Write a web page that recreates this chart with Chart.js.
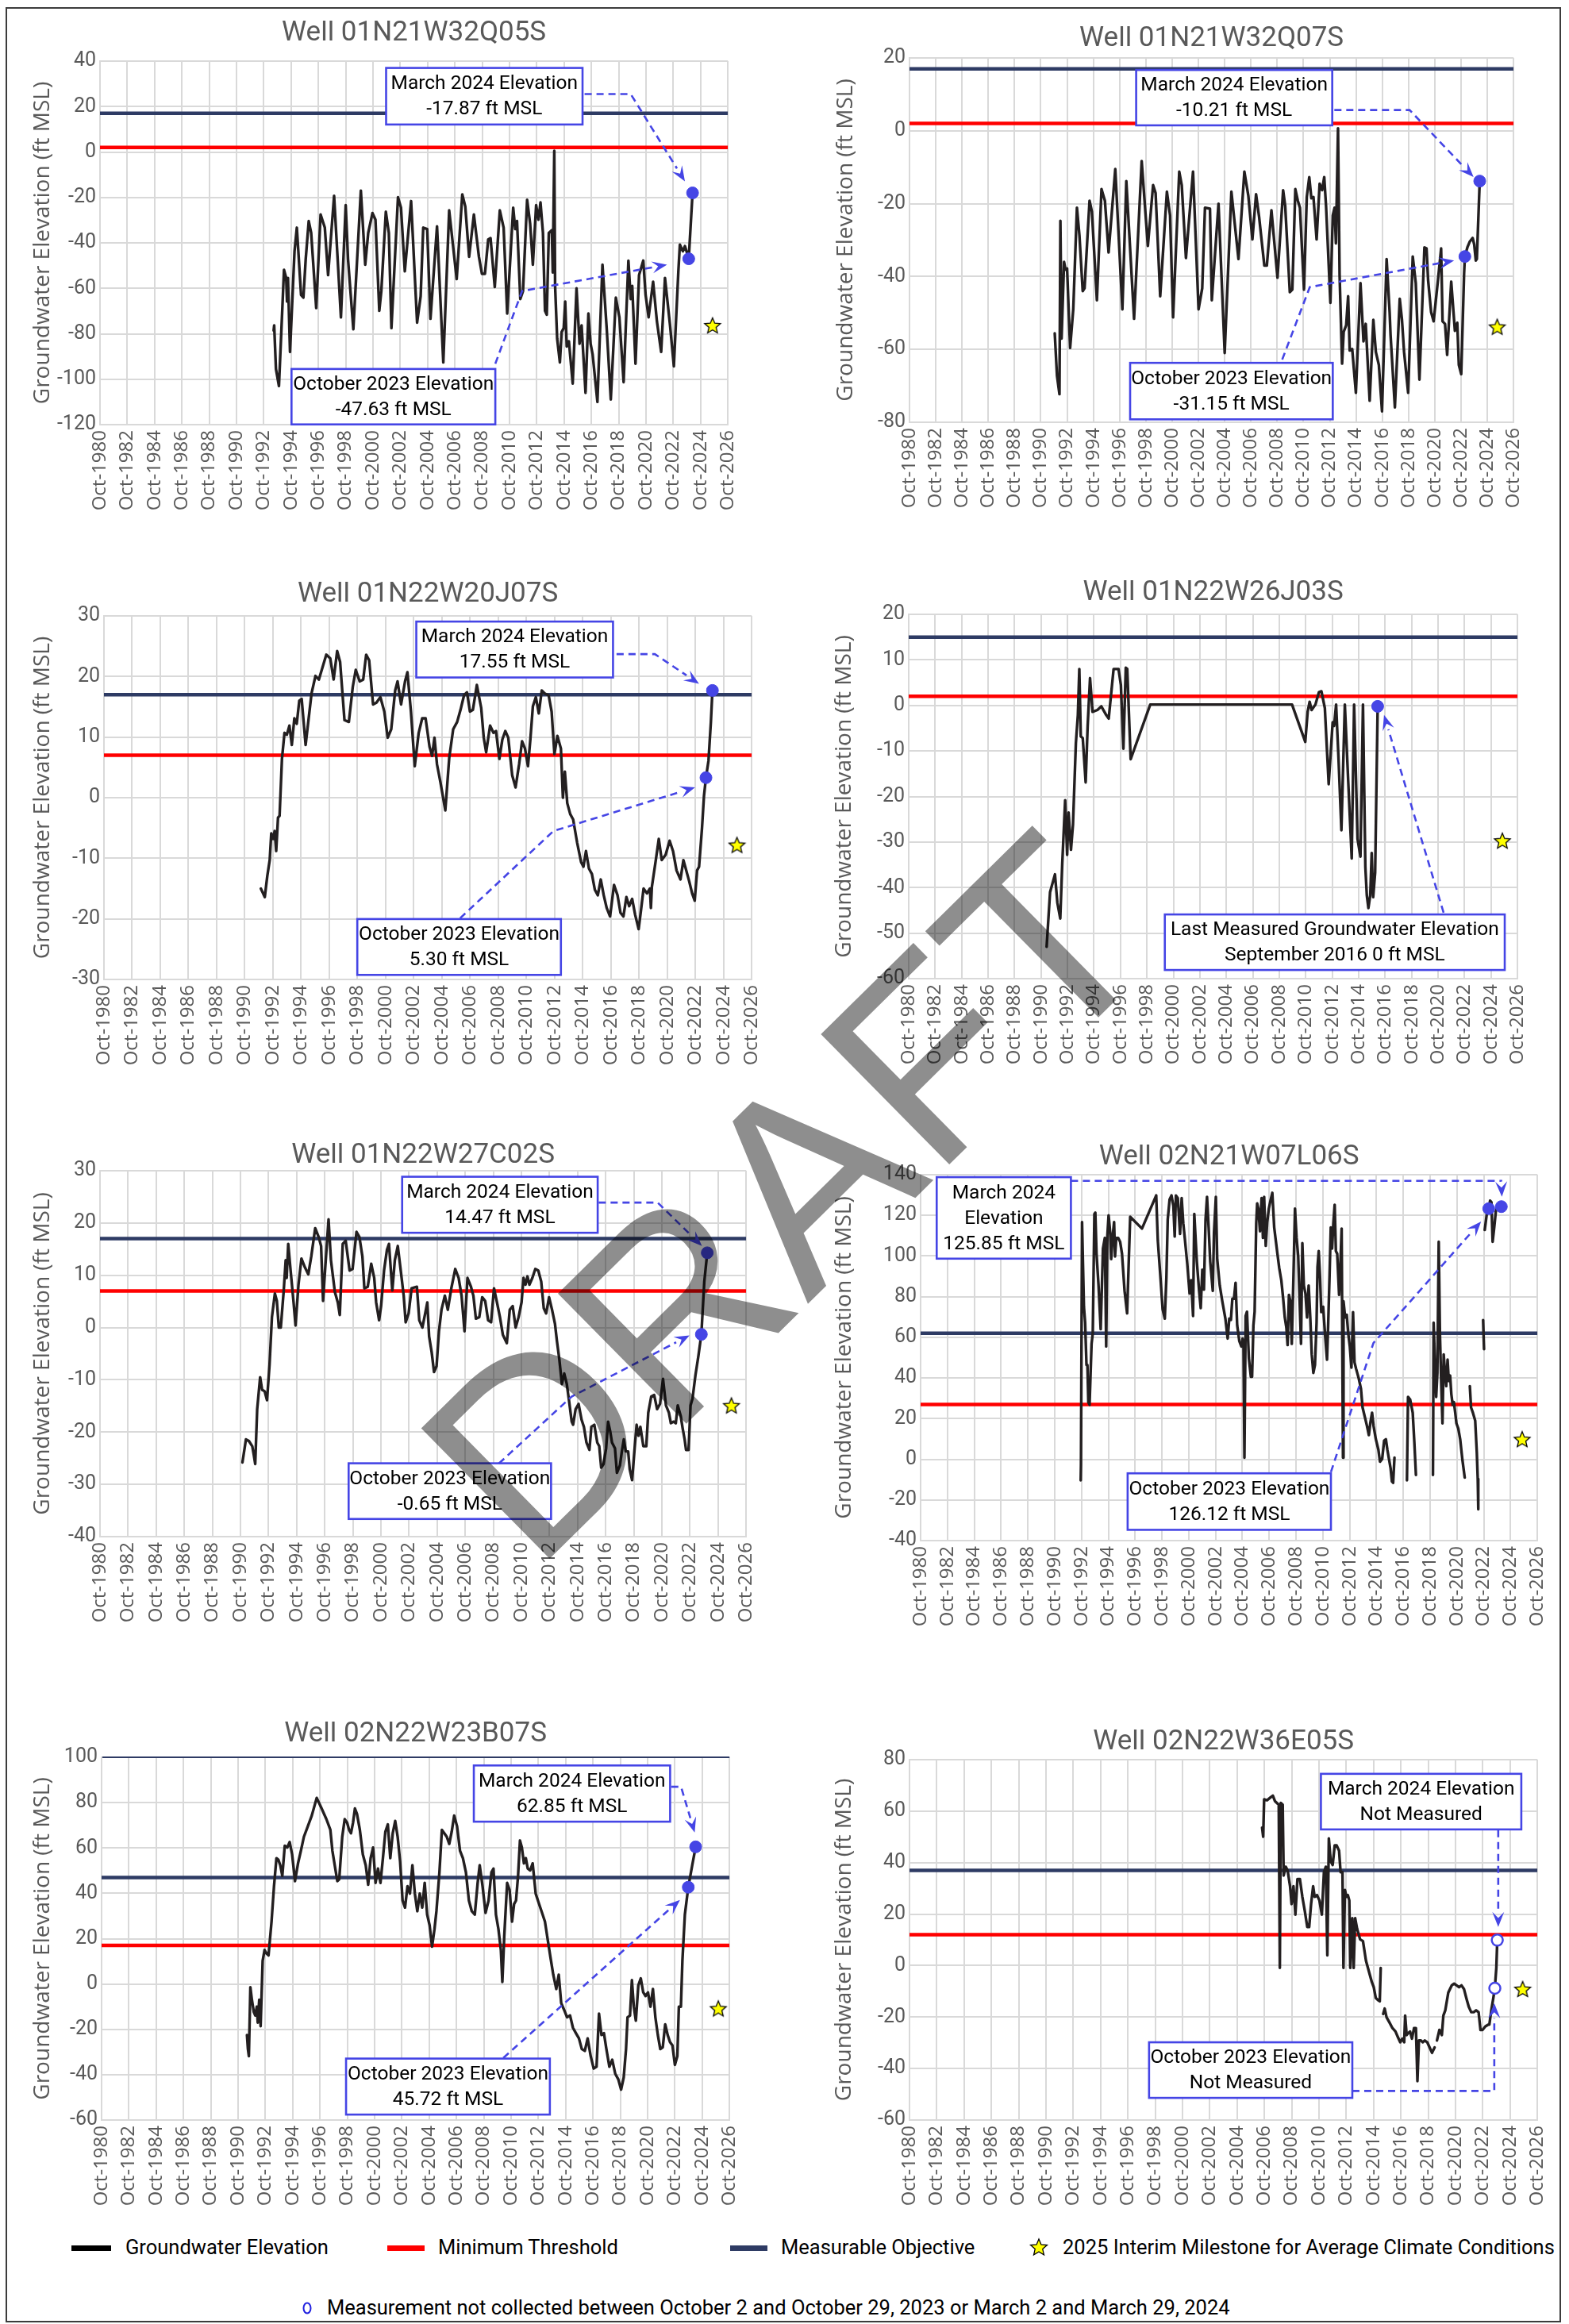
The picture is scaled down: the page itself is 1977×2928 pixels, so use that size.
<!DOCTYPE html>
<html>
<head>
<meta charset="utf-8">
<title>Groundwater Elevation Hydrographs</title>
<script src="https://cdn.jsdelivr.net/npm/chart.js@4.4.1/dist/chart.umd.min.js"></script>
<style>
  html, body { margin:0; padding:0; background:#fff; }
  #page { position:relative; width:1977px; height:2928px; overflow:hidden; background:#fff; }
  #frame { position:absolute; left:7px; top:9px; width:1960px; height:2917px; border:2px solid #3c3c3c; box-sizing:border-box; }
  .cw { position:absolute; }
  .cw canvas { display:block; }
  .lt { position:absolute; font-family:Roboto,'Noto Sans',sans-serif; font-size:25.5px; color:#000; white-space:nowrap; line-height:1; transform:translateY(-50%); }
  .lb { position:absolute; height:7px; }
  #wm { position:absolute; left:0; top:0; mix-blend-mode:multiply; pointer-events:none; }
</style>
</head>
<body>
<div id="page">
  <div id="frame"></div>
  <div id="charts"></div>

  <!-- legend -->
  <div class="lb" style="left:90px;top:2829px;width:50px;background:#000;"></div>
  <div class="lt" style="left:158px;top:2832px;">Groundwater Elevation</div>
  <div class="lb" style="left:488px;top:2829px;width:47px;background:#ff0000;"></div>
  <div class="lt" style="left:552px;top:2832px;">Minimum Threshold</div>
  <div class="lb" style="left:920px;top:2829px;width:47px;background:#2e3b64;"></div>
  <div class="lt" style="left:984px;top:2832px;">Measurable Objective</div>
  <svg style="position:absolute;left:1296px;top:2818px;" width="26" height="26">
    <polygon points="13,3 15.94,9.95 23.46,10.6 17.76,15.55 19.47,22.9 13,19 6.53,22.9 8.24,15.55 2.54,10.6 10.06,9.95" fill="#ffff00" stroke="#000" stroke-width="1.3"/>
  </svg>
  <div class="lt" style="left:1339px;top:2832px;">2025 Interim Milestone for Average Climate Conditions</div>
  <svg style="position:absolute;left:378px;top:2898px;" width="20" height="20">
    <ellipse cx="9" cy="10" rx="4.5" ry="6.5" fill="#fff" stroke="#2020e0" stroke-width="2"/>
  </svg>
  <div class="lt" style="left:412px;top:2908px;">Measurement not collected between October 2 and October 29, 2023 or March 2 and March 29, 2024</div>

  <svg id="wm" width="1977" height="2928">
    <text x="673" y="1983" transform="rotate(-44.6 673 1983)" font-family="'Liberation Sans', Arial, sans-serif" font-size="335" fill="#8e8e8e">DRAFT</text>
  </svg>
</div>

<script>
// ---------------- DATA ----------------
const wellNames = ['Well 01N21W32Q05S','Well 01N21W32Q07S','Well 01N22W20J07S','Well 01N22W26J03S',
                   'Well 01N22W27C02S','Well 02N21W07L06S','Well 02N22W23B07S','Well 02N22W36E05S'];
const yMins  = [-120, -80, -30, -60, -40, -40, -60, -60];
const yMaxes = [  40,  20,  30,  20,  30, 140, 100,  80];
const ySteps = [  20,  20,  10,  10,  10,  20,  20,  20];
const minThresholds    = [2, 2, 7, 2, 7, 27, 17, 12];
const measObjectives   = [17, 17, 17, 15, 17, 62, 47, 37];
const milestoneYears   = [2025.62, 2025.5, 2025.7, 2025.6, 2025.7, 2025.61, 2025.93, 2025.67];
const milestoneLevels  = [-76.3, -53.8, -7.8, -29.7, -14.9, 9.9, -10.8, -9.1];
const octDotYears  = [2023.88, 2023.04, 2023.5, null, 2023.56, 2023.12, 2023.73, 2023.63];
const octDotLevels = [-47, -34.5, 3.3, null, -1.3, 123.3, 42.7, -8.8];
const marDotYears  = [2024.16, 2024.17, 2023.96, 2016.18, 2023.98, 2024.06, 2024.27, 2023.81];
const marDotLevels = [-18, -13.8, 17.7, -0.2, 14.3, 124.3, 60.5, 9.9];
const dotMeasured  = [true, true, true, true, true, true, true, false];
const xTickYears = [1980,1982,1984,1986,1988,1990,1992,1994,1996,1998,2000,2002,2004,2006,2008,2010,2012,2014,2016,2018,2020,2022,2024,2026];

const w1Years = [1993.47,1993.51,1993.64,1993.86,1994.23,1994.39,1994.45,1994.52,1994.67,1995.0,
1995.17,1995.28,1995.48,1995.65,1995.82,1996.04,1996.22,1996.59,1996.91,1997.22,
1997.46,1997.9,1998.4,1998.75,1998.92,1999.31,1999.86,2000.18,2000.4,2000.71,
2000.93,2001.21,2001.36,2001.69,2001.91,2002.1,2002.58,2002.8,2003.08,2003.54,
2003.98,2004.24,2004.43,2004.72,2004.96,2005.44,2005.9,2006.33,2006.88,2007.29,
2007.51,2007.79,2008.14,2008.51,2008.73,2008.95,2009.19,2009.36,2009.67,2010.04,
2010.32,2010.58,2011.02,2011.17,2011.3,2011.54,2011.74,2012.04,2012.26,2012.46,
2012.7,2012.87,2013.02,2013.2,2013.35,2013.48,2013.63,2013.85,2013.92,2014.03,
2014.09,2014.24,2014.44,2014.57,2014.72,2014.83,2014.94,2015.1,2015.38,2015.66,
2015.88,2016.03,2016.32,2016.53,2016.69,2016.84,2017.19,2017.56,2017.88,2018.17,
2018.54,2018.8,2019.11,2019.46,2019.63,2019.74,2019.98,2020.24,2020.55,2020.72,
2020.94,2021.27,2021.55,2021.86,2022.14,2022.51,2022.79,2023.12,2023.23,2023.45,
2023.6,2023.78,2023.88,2024.16];
const w1Levels = [-78.6,-76.3,-95.5,-103,-51.9,-55.4,-65.8,-55.4,-88,-43.7,
-33.3,-43.7,-62.9,-64.1,-47.2,-30.4,-35.6,-68.7,-27.5,-33.3,
-54.2,-19.3,-72.8,-23.4,-47.2,-78,-17,-49.6,-35.6,-26.9,
-29.8,-69.9,-61.2,-26.3,-35.6,-77.5,-19.9,-24.5,-52.5,-21.6,
-75.1,-63.5,-33.3,-33.9,-73.4,-32.7,-92.6,-25.7,-55.9,-18.7,
-24,-46.1,-27.5,-46.1,-53.6,-53.6,-38.5,-37.9,-59.4,-25.7,
-33.3,-71.1,-24.5,-33.9,-30.4,-64.7,-61.2,-21,-31.5,-49.6,
-23.4,-29.8,-22.2,-35.6,-69.9,-71.6,-35.6,-34.4,-53,0.5,
-58.9,-82.1,-92.6,-79.2,-77.5,-65.8,-85.6,-83.3,-101.9,-60,
-84.4,-76.3,-106,-71.1,-84.4,-89.1,-110,-49.6,-78.6,-108.9,
-64.1,-72.8,-101.3,-47.8,-64.7,-58.9,-93.2,-54.2,-47.8,-62.9,
-72.8,-57.1,-74.6,-88,-55.4,-76.3,-94.3,-52.5,-40.8,-43.7,
-41.4,-44.9,-47,-18];

const w2Years = [1991.81,1991.98,1992.17,1992.24,1992.33,1992.52,1992.63,1992.75,1992.98,1993.22,
1993.5,1993.69,1993.94,1994.08,1994.46,1994.64,1995.02,1995.37,1995.63,1995.91,
1996.42,1996.96,1997.26,1997.85,1998.43,1998.9,1999.3,1999.49,1999.84,2000.35,
2000.59,2000.82,2001.29,2001.48,2001.8,2002.34,2002.76,2003.04,2003.25,2003.63,
2003.77,2004.28,2004.75,2005.26,2005.8,2006.25,2006.55,2006.86,2007.14,2007.37,
2007.77,2007.96,2008.31,2008.77,2009.2,2009.36,2009.71,2009.9,2010.13,2010.32,
2010.48,2010.79,2011.0,2011.19,2011.35,2011.51,2011.75,2011.98,2012.17,2012.33,
2012.47,2012.8,2012.98,2013.12,2013.22,2013.38,2013.5,2013.69,2013.81,2014.0,
2014.15,2014.27,2014.46,2014.74,2015.09,2015.32,2015.49,2015.79,2016.07,2016.26,
2016.49,2016.73,2017.08,2017.31,2017.38,2017.71,2018.08,2018.25,2018.41,2018.72,
2019.07,2019.3,2019.58,2019.96,2020.12,2020.24,2020.47,2020.66,2020.83,2020.99,
2021.23,2021.34,2021.53,2021.69,2022.0,2022.28,2022.46,2022.58,2022.76,2022.98,
2023.04,2023.23,2023.4,2023.63,2023.75,2023.87,2023.95,2024.17];
const w2Levels = [-55.6,-67.2,-72.3,-24.7,-57,-36,-38.1,-37.8,-59.6,-49,
-21.1,-28.7,-44,-43.2,-19.2,-22.2,-46.5,-16,-19.2,-33.4,
-10.5,-49,-13.8,-51.6,-8.3,-31.6,-14.9,-17.1,-45.4,-16.7,
-23.2,-51.2,-11.2,-14.9,-34.9,-11.2,-49,-43.2,-21.1,-21.4,
-46.5,-20,-61,-16.7,-35.2,-11.2,-17.8,-29.8,-17.4,-23.6,
-37,-37,-21.8,-40.3,-16.3,-20.7,-44.3,-43.6,-16,-19.2,
-21.1,-43.6,-18.2,-12.7,-18.5,-18.2,-29.8,-14.5,-16.3,-12.7,
-20.7,-47.2,-23.2,-21.1,-30.9,0.7,-39.6,-63.9,-55.2,-53.4,
-45.4,-60.3,-59.9,-71.9,-41.8,-57.8,-53,-74.1,-51.9,-60.7,
-64.3,-77,-35.2,-49.8,-56,-75.9,-46.1,-51.9,-60.7,-71.9,
-34.5,-41.8,-68.3,-32,-32.3,-41,-49.8,-52.3,-46.5,-41,
-32.3,-52.3,-53,-61.5,-41.4,-54.9,-52.7,-64.3,-66.8,-39.2,
-34.5,-32,-30.5,-29.4,-31.2,-35.6,-35.2,-13.8];

const w3Years = [1991.89,1991.99,1992.17,1992.35,1992.52,1992.63,1992.77,1992.87,1992.98,1993.11,
1993.22,1993.39,1993.57,1993.74,1993.92,1994.09,1994.27,1994.44,1994.62,1994.79,
1995.07,1995.49,1995.77,1996.01,1996.54,1996.82,1997.06,1997.31,1997.52,1997.83,
1998.14,1998.42,1998.63,1998.91,1999.16,1999.37,1999.58,1999.86,2000.1,2000.38,
2000.66,2000.9,2001.15,2001.43,2001.6,2001.85,2002.13,2002.3,2002.55,2002.82,
2003.1,2003.35,2003.59,2003.87,2004.05,2004.22,2004.4,2004.64,2004.99,2005.27,
2005.55,2005.83,2006.07,2006.32,2006.53,2006.74,2006.95,2007.23,2007.54,2007.72,
2007.89,2008.17,2008.41,2008.59,2008.83,2009.04,2009.25,2009.46,2009.74,2009.98,
2010.23,2010.44,2010.65,2010.86,2011.03,2011.21,2011.42,2011.63,2011.84,2012.05,
2012.33,2012.54,2012.74,2012.95,2013.2,2013.34,2013.48,2013.65,2013.86,2014.07,
2014.35,2014.63,2014.8,2014.98,2015.19,2015.4,2015.61,2015.82,2016.03,2016.24,
2016.45,2016.69,2016.97,2017.22,2017.43,2017.64,2017.85,2018.05,2018.26,2018.47,
2018.72,2018.89,2019.07,2019.31,2019.52,2019.59,2019.66,2019.94,2020.15,2020.36,
2020.64,2020.92,2021.16,2021.41,2021.69,2021.9,2022.1,2022.31,2022.52,2022.7,
2022.87,2023.01,2023.22,2023.36,2023.5,2023.68,2023.85,2023.96];
const w3Levels = [-15,-15.5,-16.4,-12.9,-10.3,-5.9,-6.8,-5.5,-8.8,-3.3,
-3,6.4,10.7,10.4,11.9,8.7,13.1,12.2,16,16.3,
8.7,17.2,20.1,19.5,23.6,23,19.5,24.2,22.4,12.8,
12.5,18.3,21.1,19.2,19.5,23.6,22.7,15.4,15.7,16.6,
14.2,9.9,11.3,17.7,19.2,15.4,19.2,20.7,14.2,5.2,
10.7,13.1,13.1,8.4,6.9,9.9,5.5,2.6,-2.1,6.6,
11.3,12.5,14.5,16.9,17.4,14.2,14.5,18.6,14.8,9.9,
7.5,11.9,10.7,11,6.4,9.6,11,9.9,3.7,1.7,
5.5,9.3,8.1,5.2,9.6,15.1,16.6,13.9,17.7,17.2,
16.9,14.2,7.2,10.2,8.1,0,4.3,-0.9,-2.7,-3.6,
-7.4,-10.6,-11.4,-8.8,-11.7,-12.6,-15.2,-16.1,-13.5,-16.1,
-18.2,-19.6,-14.4,-16.1,-19,-19.6,-16.4,-17.9,-16.7,-19.3,
-21.7,-18.5,-15,-15.8,-15,-18.2,-14.7,-10.3,-6.8,-10.3,
-9.4,-7.1,-8.8,-12,-13.5,-10.3,-12,-13.8,-15.8,-17,
-12,-11.4,-5,0.3,3.3,6.1,12.5,17.7];

const w4Years = [1991.17,1991.43,1991.8,1991.98,1992.2,1992.35,1992.57,1992.72,1992.83,1993.01,
1993.16,1993.38,1993.53,1993.64,1993.75,1993.9,1994.12,1994.27,1994.45,1994.64,
1995.01,1995.3,1995.67,1995.86,1996.23,1996.6,1996.78,1996.97,1997.15,1997.26,
1997.52,1999.0,2009.71,2010.71,2010.89,2011.04,2011.19,2011.48,2011.74,2011.93,
2012.19,2012.48,2012.78,2012.89,2013.04,2013.22,2013.44,2013.7,2013.96,2014.22,
2014.4,2014.66,2014.88,2015.07,2015.25,2015.36,2015.48,2015.62,2015.73,2015.84,
2015.99,2016.18];
const w4Levels = [-53,-41,-37.1,-43.3,-46.8,-34.8,-20.8,-32.8,-23.5,-31.7,
-26.2,-8.3,-2.1,8,-6.8,-7.2,-16.9,-4.5,6,-1.4,
-1,-0.2,-2.1,-2.9,8,8,4.5,-9.5,8.3,8,
-11.8,0.2,0.2,-8,-1.4,0.8,-1,0.2,2.9,3.1,
-0.6,-17.3,-3.7,-4.5,0.2,-11.5,-27.4,0.2,-16.9,-33.6,
0.2,-29.3,-33.2,0.2,-35.5,-41.7,-44.5,-41.7,-32.4,-42.1,
-36.7,-0.2];

const w5Years = [1990.89,1991.14,1991.35,1991.59,1991.7,1991.8,1991.94,1992.15,1992.29,1992.47,
1992.64,1992.82,1992.99,1993.2,1993.34,1993.48,1993.62,1993.83,1993.97,1994.04,
1994.15,1994.32,1994.53,1994.67,1994.88,1995.09,1995.34,1995.58,1995.79,1996.07,
1996.32,1996.49,1996.63,1996.77,1997.02,1997.19,1997.47,1997.68,1997.82,1998.03,
1998.24,1998.52,1998.73,1999.01,1999.22,1999.43,1999.57,1999.81,2000.06,2000.27,
2000.41,2000.62,2000.76,2000.97,2001.18,2001.32,2001.56,2001.74,2001.95,2002.16,
2002.37,2002.51,2002.72,2002.93,2003.31,2003.48,2003.7,2003.9,2004.05,2004.18,
2004.36,2004.53,2004.71,2004.88,2005.06,2005.3,2005.51,2005.76,2006.04,2006.28,
2006.49,2006.7,2006.91,2007.16,2007.33,2007.51,2007.75,2007.96,2008.17,2008.38,
2008.59,2008.8,2009.01,2009.22,2009.43,2009.71,2009.92,2010.13,2010.34,2010.55,
2010.76,2010.9,2011.04,2011.18,2011.32,2011.53,2011.74,2011.95,2012.16,2012.34,
2012.51,2012.72,2012.93,2013.14,2013.28,2013.45,2013.63,2013.8,2013.98,2014.15,
2014.33,2014.43,2014.61,2014.82,2015.03,2015.2,2015.38,2015.59,2015.73,2015.94,
2016.15,2016.29,2016.43,2016.6,2016.78,2016.92,2017.06,2017.2,2017.41,2017.55,
2017.76,2017.9,2018.04,2018.18,2018.35,2018.46,2018.63,2018.81,2018.95,2019.09,
2019.22,2019.43,2019.64,2019.78,2019.99,2020.2,2020.41,2020.62,2020.83,2021.04,
2021.25,2021.39,2021.6,2021.74,2021.88,2022.09,2022.23,2022.37,2022.47,2022.65,
2022.79,2022.93,2023.14,2023.35,2023.56,2023.77,2023.98];
const w5Levels = [-25.8,-21.4,-21.7,-22.7,-24.4,-26.1,-15.6,-9.5,-11.9,-12.2,
-13.9,-7.1,2,6.5,5.1,0,0,7.1,12.9,9.5,
16,10.9,4.8,0.4,8.2,13.2,11.5,10.2,13.6,19,
17.3,15.6,5.1,10.9,20.7,12.9,6.8,4.8,2.4,16,
16.6,10.9,11.2,18.3,17.3,13.6,7.5,7.8,12.2,9.5,
4.8,1.4,4.1,10.9,14.9,16,7.1,12.9,15.6,10.9,
6.1,1,2.7,7.5,7.8,1.4,0,2.7,4.8,-1.7,
-4.7,-8.5,-7.4,-0.7,3.4,6.1,3.4,7.5,11.2,9.5,
6.1,-0.7,9.5,7.8,6.1,1.7,2,5.8,5.1,1.4,
1,7.5,4.8,2,-1.4,-3,3.4,4.1,0,2,
4.8,9.5,8.2,9.8,8.2,9.5,11.2,10.9,8.8,3.7,
2.7,5.8,3.4,0.7,-2.6,-6.1,-10.8,-8.8,-10.8,-14.2,
-18,-18.6,-15.6,-14.6,-17.6,-19,-22,-23.4,-19,-18.6,
-22,-22.7,-26.8,-26.1,-23.1,-18,-19.7,-22,-23.1,-27.8,
-26.4,-23.7,-21.4,-23.7,-23.7,-27.1,-29.2,-23.1,-18.6,-20.7,
-19,-22.7,-22.7,-16.3,-13.2,-12.9,-15.6,-14.6,-9.8,-14.9,
-16.3,-18.3,-18,-18.3,-14.9,-16.9,-19.3,-21.4,-23.4,-23.4,
-14.9,-13.6,-9.1,-5.4,-1.3,8.8,14.3];

const w6Years = [1992.69,1992.71,1992.79,1992.93,1993.02,1993.12,1993.19,1993.26,1993.35,1993.5,
1993.59,1993.71,1993.78,1993.87,1994.02,1994.18,1994.35,1994.49,1994.59,1994.68,
1994.77,1994.89,1994.96,1995.08,1995.18,1995.25,1995.34,1995.48,1995.63,1995.77,
1995.96,1996.15,1996.38,1997.26,1998.32,1998.44,1998.61,1998.8,1998.96,1999.08,
1999.18,1999.32,1999.46,1999.6,1999.7,1999.79,1999.93,2000.1,2000.22,2000.34,
2000.45,2000.64,2000.81,2000.93,2001.07,2001.16,2001.35,2001.52,2001.64,2001.76,
2001.88,2002.0,2002.11,2002.23,2002.35,2002.54,2002.63,2002.77,2002.87,2003.06,
2003.25,2003.48,2003.65,2003.77,2003.89,2004.0,2004.12,2004.24,2004.36,2004.52,
2004.67,2004.76,2004.83,2004.9,2004.99,2005.09,2005.23,2005.38,2005.47,2005.57,
2005.66,2005.78,2005.85,2005.94,2006.06,2006.18,2006.28,2006.37,2006.49,2006.6,
2006.72,2006.84,2006.98,2007.12,2007.24,2007.36,2007.5,2007.65,2007.79,2007.91,
2008.03,2008.12,2008.22,2008.33,2008.43,2008.55,2008.67,2008.79,2008.91,2009.02,
2009.12,2009.22,2009.33,2009.45,2009.57,2009.69,2009.81,2009.92,2010.04,2010.16,
2010.28,2010.35,2010.44,2010.54,2010.63,2010.77,2010.92,2011.06,2011.15,2011.25,
2011.34,2011.44,2011.53,2011.63,2011.72,2011.82,2011.96,2012.05,2012.15,2012.25,
2012.29,2012.41,2012.53,2012.64,2012.76,2012.88,2013.0,2013.11,2013.23,2013.42,
2013.59,2013.71,2013.9,2014.04,2014.18,2014.3,2014.42,2014.53,2014.7,2014.89,
2015.01,2015.17,2015.32,2015.45,2015.56,2015.68,2015.8,2015.9,2015.99,2016.09,
2016.5,
2017.02,2017.1,2017.26,2017.45,2017.57,2017.69,
2018.3,
2018.96,2019.01,2019.1,2019.2,2019.29,2019.39,2019.48,2019.57,2019.67,2019.76,
2019.86,2019.95,2020.05,2020.14,2020.24,2020.33,2020.43,2020.52,2020.62,2020.71,
2020.85,2020.99,2021.16,2021.33,
2021.5,
2021.71,2021.8,2021.94,2022.11,2022.23,2022.3,2022.34,
2022.5,
2022.7,2022.77,
2022.8,
2022.82,2022.98,2023.12,2023.22,2023.32,2023.41,2023.53,2023.65,2023.76,2024.06];
const w6Levels = [-10.3,-2.5,116.7,75,67.2,46.4,46.4,28.1,26.8,56.8,
62,120.7,121.3,101.1,85.5,64,103.7,108.9,55.5,110.2,
120,111.5,98.5,110.2,116.7,99.8,108.9,108.9,107,101.1,
82.9,71.8,119.3,113.5,129.8,107.6,92,73.8,69.2,89.4,
118,127.8,129.8,124.6,109.6,129.8,128.5,110.9,128.5,116.1,
108.9,95.9,81.6,88.1,70.5,120.7,97.2,82.9,74.4,93.3,
83.5,118,129.1,114.1,97.2,82.9,111.5,129.1,98.5,85.5,
77.7,69.2,59.4,69.2,68.6,79,79,86.8,65.9,58.1,
55.5,59.4,56.8,0.8,70.5,72.6,49.8,40.6,40.6,65.9,
72.6,116.1,125.9,123.3,112.2,128.5,108.9,129.1,105,116.7,
123.3,127.2,131.1,114.1,107.6,101.1,93.9,88.1,79,69.8,
64.6,56.2,80.9,77.7,56.8,88.1,123.3,108.9,99.8,77.7,
56.8,106.3,85.5,81.6,69.8,85.5,69.8,51.6,42.5,46.4,
67.2,94.6,102.4,89.4,72.4,75,60.7,49,67.2,90.7,
114.1,103.7,116.1,125.2,102.4,101.1,80.9,94.6,113.5,0.8,
77.7,69.8,71.1,62,55.5,45.1,72.4,47.7,44.5,39.9,
34.7,25.5,20.3,16.4,11.9,18.4,22.9,16.4,9.9,4.7,
-1.2,0.1,9.2,9.9,4.7,0.1,-4.4,-10.9,-11.6,0.8,
null,
-10.3,30.7,29.4,22.9,8.6,-7.7,
null,
-7.7,67.2,49,30.7,42.5,107,62,38.6,17.7,51.6,
42.5,36,49,38.6,41.2,32.1,26.8,28.1,22.9,17.7,
15.1,9.9,-0.5,-9,
null,
36,25.5,22.9,19,3.4,-9.6,-24.6,
null,
68.5,54.2,
null,
112.8,121,123.3,127.2,126.5,107,114.1,122,124.6,124.6];

const w7Years = [1991.4,1991.47,1991.54,1991.65,1991.76,1991.9,1992.01,1992.12,1992.19,1992.3,
1992.4,1992.55,1992.69,1992.84,1992.98,1993.2,1993.38,1993.56,1993.7,1993.84,
1993.99,1994.17,1994.35,1994.53,1994.71,1994.92,1995.14,1995.35,1995.57,1995.86,
1996.15,1996.51,1996.87,1997.22,1997.51,1997.66,1997.87,1998.02,1998.16,1998.38,
1998.56,1998.74,1998.88,1999.02,1999.17,1999.31,1999.46,1999.67,1999.89,2000.1,
2000.28,2000.46,2000.64,2000.82,2001.0,2001.18,2001.36,2001.54,2001.72,2001.9,
2002.08,2002.26,2002.44,2002.62,2002.8,2002.98,2003.16,2003.34,2003.52,2003.7,
2003.88,2004.06,2004.24,2004.42,2004.6,2004.78,2004.96,2005.14,2005.28,2005.5,
2005.68,2005.86,2006.04,2006.22,2006.4,2006.58,2006.79,2007.01,2007.22,2007.44,
2007.66,2007.87,2008.09,2008.3,2008.45,2008.66,2008.88,2009.1,2009.31,2009.46,
2009.64,2009.82,2010.0,2010.11,2010.25,2010.46,2010.64,2010.82,2010.97,2011.11,
2011.26,2011.4,2011.54,2011.69,2011.83,2011.97,2012.15,2012.33,2012.55,2012.76,
2012.98,2013.23,2013.41,2013.63,2013.84,2014.06,2014.24,2014.42,2014.64,2014.85,
2015.07,2015.28,2015.5,2015.72,2015.93,2016.15,2016.36,2016.58,2016.8,2017.01,
2017.19,2017.37,2017.55,2017.73,2017.95,2018.16,2018.38,2018.6,2018.81,2019.0,
2019.17,2019.28,2019.46,2019.6,2019.74,2019.89,2020.07,2020.25,2020.43,2020.6,
2020.78,2020.96,2021.14,2021.32,2021.5,2021.68,2021.86,2022.04,2022.22,2022.39,
2022.57,2022.75,2022.93,2023.04,2023.19,2023.3,2023.48,2023.73,2024.02,2024.27];
const w7Levels = [-22.5,-28.7,-31.8,-1.4,-6.9,-12.3,-13.9,-10,-17,-6.9,
-18.6,10.3,15,13.4,12.6,27.5,43.1,55.5,54.8,52.4,
47.7,61,60.2,62.6,57.1,45.4,53.2,58.7,64.9,69.6,
74.3,82.1,77.4,72.7,68,58.7,50.9,45.4,46.2,64.9,
72.7,71.1,68,66.5,71.1,77.4,75,68,57.1,52.4,
43.8,55.5,60.2,44.6,50.9,44.6,55.5,67.2,70.4,55.5,
66.5,71.9,64.9,54,36.8,33.7,43.1,39.9,52.4,39.9,
32.1,39.9,33.7,44.6,30.6,25.9,16.5,24.3,32.1,49.3,
68,66.5,64.9,61.8,67.2,74.3,69.6,58.7,55.5,49.3,
36.8,32.1,30.6,44.6,52.4,43.1,31.4,36.8,49.3,50.9,
30.6,24.3,15,0.9,21.2,44.6,41.5,27.5,35.3,36.8,
47.7,63.3,60.2,53.2,55.5,50.9,50.1,53.2,39.9,36,
32.1,27.5,20.4,11.9,4.1,-2.2,4.1,-8.4,-11.5,-14.7,
-13.9,-19.3,-21.7,-24,-28.7,-29.5,-24,-31.8,-37.3,-36.5,
-13.1,-22.5,-21.7,-28.7,-36.5,-33.4,-39.6,-42,-46.6,-41.2,
-28.7,-14.7,-13.9,1.7,-10,-16.2,-0.6,2.5,-3.7,-5.3,
-3.7,-10,-2.2,-14.7,-22.5,-28.7,-27.9,-17.8,-22.5,-25.6,
-27.1,-35.7,-31.8,-10,-10,10.3,30.6,42.7,52.4,60.5];

const w8Years = [2006.58,2006.66,2006.73,2006.94,2007.19,2007.37,2007.52,2007.66,2007.8,2007.88,
2007.95,2008.09,2008.16,2008.31,2008.45,2008.63,2008.74,2008.88,2009.02,2009.17,
2009.35,2009.53,2009.71,2009.89,2010.03,2010.17,2010.32,2010.43,2010.6,2010.78,
2010.96,2011.11,2011.25,2011.36,2011.47,2011.61,2011.75,2011.9,2012.04,2012.22,
2012.33,2012.47,2012.54,2012.65,2012.76,2012.86,2012.97,2013.04,2013.19,2013.29,
2013.4,2013.54,2013.76,2013.97,2014.19,2014.4,2014.62,2014.76,2014.91,2015.05,
2015.2,2015.27,2015.36,2015.45,2015.56,2015.7,2015.92,2016.13,2016.35,2016.52,
2016.7,2016.85,2016.99,2017.06,2017.17,2017.28,2017.42,2017.56,2017.71,2017.85,
2017.96,2018.07,2018.21,2018.35,2018.5,2018.68,2018.85,2019.03,2019.22,2019.3,
2019.39,2019.57,2019.75,2019.86,2020.0,2020.22,2020.47,2020.65,2020.83,2021.01,
2021.19,2021.37,2021.54,2021.72,2021.9,2022.08,2022.26,2022.44,2022.58,2022.73,
2022.94,2023.16,2023.23,2023.37,2023.52,2023.63,2023.74,2023.81];
const w8Levels = [53.6,50.1,64.6,64.2,65.3,66,63.9,63.2,62.5,-0.9,
63.2,62.5,35,38.4,37,30.8,23.9,30.8,19.8,33.6,
33.6,26.7,21.2,15,15,23.9,30.8,26.7,27.4,25.3,
19.8,36.3,38.4,4,49.4,40.5,39.1,46.7,46.7,44.6,
36.3,36.3,-0.9,29.4,26.7,27.4,25.3,-0.9,18.4,-0.9,
18.4,14.3,10.2,9.5,1.9,-2.2,-6.4,-8.4,-12.6,-13.3,
-13.9,-0.9,null,-18.8,-16.7,-20.1,-22.2,-24.3,-25.6,-27.7,
-29.8,-28.4,-29.8,-19.4,-27,-26.3,-25.6,-28.4,-24.3,-24.3,
-44.9,-29.1,-29.1,-29.8,-29.1,-29.8,-31.8,-33.9,-31.8,null,
-29.1,-25,-27,-19.4,-17.4,-10.5,-7.7,-7,-7.7,-8.4,
-7.7,-9.1,-12.6,-16,-18.1,-18.1,-17.4,-18.1,-25,-25,
-23.6,-22.9,-22.9,-17.4,-12.6,-8.8,-0.9,9.9];

const seriesYears  = [w1Years, w2Years, w3Years, w4Years, w5Years, w6Years, w7Years, w8Years];
const seriesLevels = [w1Levels, w2Levels, w3Levels, w4Levels, w5Levels, w6Levels, w7Levels, w8Levels];

// ---------------- LAYOUT / STYLE (not data) ----------------
const COND = "Roboto,'Noto Sans',sans-serif";
const SANS = "'Open Sans','DejaVu Sans',sans-serif";
const GRAY_TXT = '#595959';
const BLUE = '#4545e5';
const RED = '#ff0000';
const NAVY = '#2e3b64';
const LINE = '#231f20';
const GRID = '#d9d9d9';
const X_MIN = 1980.75, X_MAX = 2026.75, OCT = 0.75;

// plot-area rectangles on the page, title centre y, y-title gap
const panels = [
  {l:126,  t:77,   r:933,  b:535,  ty:42,   yg:72},
  {l:1146, t:73,   r:1923, b:532,  ty:49,   yg:80},
  {l:131,  t:776,  r:963,  b:1234, ty:749,  yg:77},
  {l:1145, t:774,  r:1928, b:1233, ty:747,  yg:81},
  {l:126,  t:1475, r:956,  b:1936, ty:1456, yg:72},
  {l:1160, t:1480, r:1953, b:1941, ty:1458, yg:96},
  {l:128,  t:2214, r:935,  b:2671, ty:2185, yg:74},
  {l:1146, t:2217, r:1953, b:2671, ty:2195, yg:82}
];

// call-out boxes and dashed arrows, placed in axis units
const notes = [
  { boxes: [
      {x1:2001.71, x2:2016.1, y1:37, y2:12.1, lines:['March 2024 Elevation','-17.87 ft MSL']},
      {x1:1994.78, x2:2009.71, y1:-95.5, y2:-119.9, lines:['October 2023 Elevation','-47.63 ft MSL']}],
    arrows: [[[2016.25,25.5],[2019.63,25.5],[2023.6,-12.9]],
             [[2009.71,-93.2],[2011.67,-61.2],[2022.29,-49.6]]] },
  { boxes: [
      {x1:1998.01, x2:2012.94, y1:16.7, y2:1.5, lines:['March 2024 Elevation','-10.21 ft MSL']},
      {x1:1997.55, x2:2012.98, y1:-63.7, y2:-79.2, lines:['October 2023 Elevation','-31.15 ft MSL']}],
    arrows: [[[2013.1,5.7],[2018.83,5.7],[2023.7,-12.7]],
             [[2009.13,-62.8],[2011.23,-42.9],[2022.22,-35.6]]] },
  { boxes: [
      {x1:2002.93, x2:2016.9, y1:29.07, y2:19.84, lines:['March 2024 Elevation','17.55 ft MSL']},
      {x1:1998.74, x2:2013.2, y1:-20.03, y2:-29.25, lines:['October 2023 Elevation','5.30 ft MSL']}],
    arrows: [[[2017.15,23.7],[2019.87,23.7],[2023.01,18.8]],
             [[2006.04,-19.9],[2012.67,-5.5],[2022.73,1.7]]] },
  { boxes: [
      {x1:2000.1, x2:2025.78, y1:-45.9, y2:-58.1, lines:['Last Measured Groundwater Elevation','September 2016 0 ft MSL']}],
    arrows: [[[2021.16,-45.5],[2016.66,-2.1]]] },
  { boxes: [
      {x1:2002.26, x2:2016.18, y1:28.85, y2:18.13, lines:['March 2024 Elevation','14.47 ft MSL']},
      {x1:1998.45, x2:2012.86, y1:-25.97, y2:-36.62, lines:['October 2023 Elevation','-0.65 ft MSL']}],
    arrows: [[[2016.25,23.9],[2020.45,23.9],[2023.6,15.6]],
             [[2009.15,-26],[2014.33,-13.2],[2022.72,-1.5]]] },
  { boxes: [
      {x1:1981.95, x2:1991.96, y1:138.8, y2:98.7, lines:['March 2024','Elevation','125.85 ft MSL']},
      {x1:1996.19, x2:2011.35, y1:-6.9, y2:-34.7, lines:['October 2023 Elevation','126.12 ft MSL']}],
    arrows: [[[1991.96,137],[2024.05,137],[2024.1,129.2]],
             [[2011.35,-6.3],[2014.52,57.2],[2022.55,117]]] },
  { boxes: [
      {x1:2008.02, x2:2022.4, y1:96.4, y2:71.6, lines:['March 2024 Elevation','62.85 ft MSL']},
      {x1:1998.66, x2:2013.59, y1:-32.9, y2:-57.6, lines:['October 2023 Elevation','45.72 ft MSL']}],
    arrows: [[[2022.48,87],[2023.2,87],[2024.2,66.8]],
             [[2010.18,-32.6],[2023.12,37.1]]] },
  { boxes: [
      {x1:2010.89, x2:2025.57, y1:74.5, y2:52.9, lines:['March 2024 Elevation','Not Measured']},
      {x1:1998.3, x2:2013.19, y1:-29.8, y2:-51.4, lines:['October 2023 Elevation','Not Measured']}],
    arrows: [[[2023.88,52.6],[2023.88,15]],
             [[2013.19,-48.7],[2023.59,-48.7],[2023.59,-14.6]]] }
];

function makeStar(size) {
  const c = document.createElement('canvas');
  c.width = size; c.height = size;
  const g = c.getContext('2d');
  const cx = size / 2, cy = size / 2 + 1, R = size / 2 - 1.5, r = R * 0.45;
  g.beginPath();
  for (let k = 0; k < 10; k++) {
    const rad = k % 2 ? r : R;
    const a = -Math.PI / 2 + k * Math.PI / 5;
    g.lineTo(cx + rad * Math.cos(a), cy + rad * Math.sin(a));
  }
  g.closePath();
  g.fillStyle = '#ffff00'; g.fill();
  g.lineWidth = 1.3; g.strokeStyle = '#000'; g.stroke();
  return c;
}
const starImg = makeStar(24);

const notesPlugin = {
  id: 'wellNotes',
  afterDatasetsDraw(chart, args, opts) {
    const ctx = chart.ctx, xs = chart.scales.x, ys = chart.scales.y;
    const px = v => xs.getPixelForValue(v), py = v => ys.getPixelForValue(v);
    ctx.save();
    (opts.boxes || []).forEach(b => {
      const x1 = px(b.x1), x2 = px(b.x2), y1 = py(b.y1), y2 = py(b.y2);
      ctx.fillStyle = '#fff';
      ctx.fillRect(x1, y1, x2 - x1, y2 - y1);
      ctx.lineWidth = 2.6; ctx.strokeStyle = BLUE;
      ctx.strokeRect(x1, y1, x2 - x1, y2 - y1);
      ctx.fillStyle = '#000';
      ctx.font = '24.5px ' + COND;
      ctx.textAlign = 'center'; ctx.textBaseline = 'middle';
      const cx = (x1 + x2) / 2, cy = (y1 + y2) / 2, n = b.lines.length, lh = 32;
      b.lines.forEach((t, k) => ctx.fillText(t, cx, cy + (k - (n - 1) / 2) * lh + 1));
    });
    (opts.arrows || []).forEach(a => {
      const pts = a.map(q => [px(q[0]), py(q[1])]);
      const [ex, ey] = pts[pts.length - 1], [sx, sy] = pts[pts.length - 2];
      const ang = Math.atan2(ey - sy, ex - sx), L = 19, W = 7.5;
      const bx = ex - L * Math.cos(ang), by = ey - L * Math.sin(ang);
      ctx.strokeStyle = BLUE; ctx.lineWidth = 2.6; ctx.setLineDash([9, 6]);
      ctx.beginPath();
      ctx.moveTo(pts[0][0], pts[0][1]);
      for (let k = 1; k < pts.length - 1; k++) ctx.lineTo(pts[k][0], pts[k][1]);
      ctx.lineTo(bx, by);
      ctx.stroke();
      ctx.setLineDash([]);
      ctx.fillStyle = BLUE;
      ctx.beginPath();
      ctx.moveTo(ex, ey);
      ctx.lineTo(bx + W * Math.sin(ang), by - W * Math.cos(ang));
      ctx.lineTo(ex - 0.6 * L * Math.cos(ang), ey - 0.6 * L * Math.sin(ang));
      ctx.lineTo(bx - W * Math.sin(ang), by + W * Math.cos(ang));
      ctx.closePath();
      ctx.fill();
    });
    ctx.restore();
  }
};

const holder = document.getElementById('charts');
const TITLE_SIZE = 35, TITLE_LH = 0.9, XH = 118, RPAD = 20, YT_SIZE = 28;

panels.forEach((p, i) => {
  const cl = Math.round(p.l - p.yg - YT_SIZE * 0.6);
  const ct = Math.round(p.ty - TITLE_SIZE * TITLE_LH / 2);
  const yw = p.l - cl;
  const cw = Math.round(p.r + RPAD - cl);
  const ch = Math.round(p.b + XH - ct);
  const titleBottomPad = p.t - ct - TITLE_SIZE * TITLE_LH;

  const wrap = document.createElement('div');
  wrap.className = 'cw';
  wrap.style.left = cl + 'px'; wrap.style.top = ct + 'px';
  wrap.style.width = cw + 'px'; wrap.style.height = ch + 'px';
  const cv = document.createElement('canvas');
  cv.width = cw; cv.height = ch;
  cv.style.width = cw + 'px'; cv.style.height = ch + 'px';
  wrap.appendChild(cv);
  holder.appendChild(wrap);

  const series = seriesYears[i].map((x, k) => ({x: x, y: seriesLevels[i][k]}));
  const dots = [];
  if (octDotYears[i] !== null) dots.push({x: octDotYears[i], y: octDotLevels[i]});
  if (marDotYears[i] !== null) dots.push({x: marDotYears[i], y: marDotLevels[i]});
  const filled = dotMeasured[i];

  new Chart(cv, {
    type: 'line',
    data: {
      datasets: [
        { label: 'Measurement', data: dots, showLine: false, order: 0,
          pointRadius: filled ? 7.5 : 7, pointStyle: 'circle',
          pointBackgroundColor: filled ? BLUE : '#ffffff',
          pointBorderColor: BLUE, pointBorderWidth: filled ? 1 : 2.5 },
        { label: '2025 Interim Milestone', data: [{x: milestoneYears[i], y: milestoneLevels[i]}],
          showLine: false, order: 1, pointStyle: starImg, pointRadius: 12 },
        { label: 'Groundwater Elevation', data: series, order: 2, borderColor: LINE,
          borderWidth: 3.4, pointRadius: 0, spanGaps: false, tension: 0,
          borderJoinStyle: 'round', borderCapStyle: 'round' },
        { label: 'Measurable Objective', order: 3, borderColor: NAVY, borderWidth: 4.5, pointRadius: 0,
          data: [{x: X_MIN, y: measObjectives[i]}, {x: X_MAX, y: measObjectives[i]}] },
        { label: 'Minimum Threshold', order: 4, borderColor: RED, borderWidth: 4.5, pointRadius: 0,
          data: [{x: X_MIN, y: minThresholds[i]}, {x: X_MAX, y: minThresholds[i]}] }
      ]
    },
    options: {
      responsive: false,
      animation: false,
      devicePixelRatio: 1,
      events: [],
      layout: { padding: { left: 0, right: RPAD, top: 0, bottom: 0 } },
      scales: {
        x: {
          type: 'linear', min: X_MIN, max: X_MAX,
          afterBuildTicks: s => { s.ticks = xTickYears.map(yr => ({value: yr + OCT})); },
          afterFit: s => { s.height = XH; },
          grid: { color: GRID, lineWidth: 2, drawTicks: false },
          border: { color: GRID, width: 2 },
          ticks: {
            autoSkip: false, maxRotation: 90, minRotation: 90, padding: 7,
            color: GRAY_TXT, font: { family: SANS, size: 24 },
            callback: (v, idx) => 'Oct-' + xTickYears[idx]
          }
        },
        y: {
          min: yMins[i], max: yMaxes[i],
          afterFit: s => { s.width = yw; },
          grid: {
            lineWidth: 2, drawTicks: false,
            color: c => (i === 6 && c.tick && c.tick.value === yMaxes[i]) ? NAVY : GRID
          },
          border: { color: GRID, width: 2 },
          ticks: { stepSize: ySteps[i], padding: 5, color: GRAY_TXT,
                   font: { family: COND, size: 25 } },
          title: { display: true, text: 'Groundwater Elevation (ft MSL)', color: GRAY_TXT,
                   font: { family: SANS, size: YT_SIZE }, padding: { top: 0, bottom: 0 } }
        }
      },
      plugins: {
        legend: { display: false },
        tooltip: { enabled: false },
        title: {
          display: true, text: wellNames[i], color: GRAY_TXT, fullSize: false, align: 'center',
          font: { family: COND, size: TITLE_SIZE, weight: 'normal', lineHeight: TITLE_LH },
          padding: { top: 0, bottom: titleBottomPad }
        },
        wellNotes: notes[i]
      }
    },
    plugins: [notesPlugin]
  });
});
</script>
</body>
</html>
